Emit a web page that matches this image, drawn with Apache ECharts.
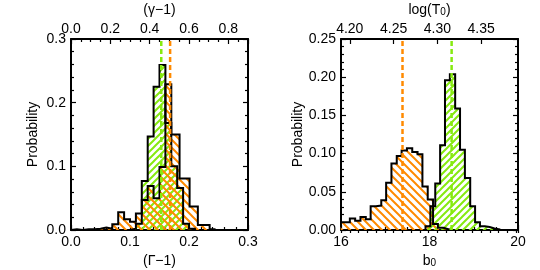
<!DOCTYPE html>
<html><head><meta charset="utf-8">
<script src="https://cdn.jsdelivr.net/npm/echarts@6/dist/echarts.min.js"></script>
<style>html,body{margin:0;padding:0;background:#fff}#c{width:540px;height:270px}</style>
</head><body><div id="c"></div>
<script>
// ---------- data ----------
// Left panel: (Gamma-1) histograms (bin edges, probabilities)
const leftGreenEdges = [0.10,0.11,0.12,0.13,0.14,0.15,0.16,0.17,0.18,0.19,0.20,0.21];
const leftGreenProb  = [0.002,0.010,0.077,0.147,0.225,0.259,0.168,0.100,0.066,0.010,0.002];
const leftOrangeEdges = [0.00,0.01,0.02,0.03,0.04,0.05,0.06,0.07,0.08,0.09,0.10,0.11,0.12,0.13,0.14,0.15,0.16,0.17,0.184,0.201,0.215,0.235,0.245];
const leftOrangeProb  = [0.001,0.000,0.001,0.001,0.002,0.004,0.002,0.009,0.028,0.017,0.013,0.026,0.047,0.069,0.050,0.099,0.229,0.150,0.081,0.037,0.008,0.001];
const leftGreenMedian = 0.153;
const leftOrangeMedian = 0.168;
// Right panel: b0 histograms
const rightOrangeEdges = [15.97,16.09,16.20,16.32,16.44,16.56,16.67,16.79,16.91,17.02,17.14,17.26,17.37,17.49,17.61,17.73,17.84,17.96,18.08,18.19,18.31,18.43];
const rightOrangeProb  = [0.010,0.010,0.015,0.012,0.017,0.014,0.031,0.032,0.039,0.062,0.087,0.097,0.104,0.107,0.102,0.099,0.057,0.040,0.008,0.003,0.001];
const rightGreenEdges = [17.91,18.02,18.13,18.24,18.35,18.46,18.58,18.69,18.80,18.92,19.03,19.14,19.25,19.36,19.47,19.58];
const rightGreenProb  = [0.005,0.031,0.061,0.111,0.196,0.204,0.159,0.105,0.068,0.031,0.010,0.005,0.004,0.002,0.001];
const rightOrangeMedian = 17.39;
const rightGreenMedian = 18.50;
// axis tick labels
const logT0Ticks = [4.20,4.25,4.30,4.35];

// ---------- helpers ----------
const ORANGE = '#FF8A00', GREEN = '#86EA10';
const FONT = 'Liberation Sans, Arial, sans-serif';
function hatch(color, size, dir, lw){
  const c = document.createElement('canvas'); c.width = size; c.height = size;
  const g = c.getContext('2d'); g.strokeStyle = color; g.lineWidth = lw;
  g.beginPath();
  if (dir > 0){ // '/'
    g.moveTo(-1, size+1); g.lineTo(size+1, -1);
    g.moveTo(-2, 2); g.lineTo(2, -2);
    g.moveTo(size-2, size+2); g.lineTo(size+2, size-2);
  } else { // '\'
    g.moveTo(-1, -1); g.lineTo(size+1, size+1);
    g.moveTo(-2, size-2); g.lineTo(2, size+2);
    g.moveTo(size-2, -2); g.lineTo(size+2, 2);
  }
  g.stroke();
  return {image: c, repeat: 'repeat'};
}
function steps(edges, prob){
  const pts = [[edges[0], 0]];
  for (let i = 0; i < prob.length; i++){
    pts.push([edges[i], prob[i]]);
    pts.push([edges[i+1], prob[i]]);
  }
  pts.push([edges[prob.length], 0]);
  return pts;
}
function histSeries(edges, prob, color, dir, size, xi, yi){
  return {type:'line', xAxisIndex:xi, yAxisIndex:yi, data: steps(edges, prob),
    symbol:'none', silent:true, clip:true,
    lineStyle:{color:'#000', width:2, join:'miter'},
    areaStyle:{color: hatch(color, size, dir, 2), opacity:1, origin:'start'}};
}
function medianSeries(x, top, color, xi, yi){
  return {type:'line', xAxisIndex:xi, yAxisIndex:yi, data:[[x,0],[x,top]],
    symbol:'none', silent:true, z:5,
    lineStyle:{color:color, width:2.5, type:[5,3]}};
}
const txt = {color:'#000', fontFamily:FONT, fontSize:14};
function xAx(grid, pos, min, max, interval, minorN, dec, name, gap, extra){
  return Object.assign({type:'value', gridIndex:grid, position:pos, min, max, interval,
    axisLine:{show:true, onZero:false, lineStyle:{color:'#000', width:2}},
    axisTick:{show:true, inside:true, length:5, lineStyle:{color:'#000', width:1.2}},
    minorTick:{show: minorN>0, splitNumber: minorN||5, length:3, lineStyle:{color:'#000', width:1.2}},
    splitLine:{show:false},
    axisLabel:{show: dec>=0, formatter:v=>v.toFixed(dec), margin: pos==='top'?3:5, ...txt},
    name, nameLocation:'middle', nameGap:gap, nameTextStyle:{...txt}}, extra||{});
}
function yAx(grid, pos, max, interval, dec, name){
  return {type:'value', gridIndex:grid, position:pos, min:0, max, interval,
    axisLine:{show:true, onZero:false, lineStyle:{color:'#000', width:2}},
    axisTick:{show:true, inside:true, length:5, lineStyle:{color:'#000', width:1.2}},
    minorTick:{show:true, splitNumber:5, length:3, lineStyle:{color:'#000', width:1.2}},
    splitLine:{show:false},
    axisLabel:{show: pos==='left', formatter:v=>v.toFixed(dec), margin:5, ...txt},
    name: pos==='left'?name:'', nameLocation:'middle', nameGap:31, nameRotate:90, nameTextStyle:{...txt}};
}
const rich = {t:{fontSize:14, fontFamily:FONT, color:'#000', lineHeight:14},
              s:{fontSize:10, fontFamily:FONT, color:'#000', lineHeight:10, verticalAlign:'bottom'}};

const option = {
  animation:false, backgroundColor:'#fff',
  grid:[{left:71, top:39, width:177, height:191, outerBoundsMode:'none'},
        {left:341, top:39, width:177, height:191, outerBoundsMode:'none'}],
  xAxis:[
    xAx(0,'bottom',0,0.3,0.1,5,1,'(\u0393\u22121)',21),
    xAx(0,'top',0,0.9,0.2,4,1,'(\u03B3\u22121)',19, {
        axisLabel:{show:true, formatter:v=>v.toFixed(1), margin:3, showMaxLabel:false, ...txt}}),
    xAx(1,'bottom',16,20,2,4,0,'{t|b}{s|0}',21, {nameTextStyle:{rich}}),
    xAx(1,'top',4.19,4.392,0.05,0,2,'log(T{s|0})',19, {
        axisTick:{show:true, inside:true, length:5, customValues:logT0Ticks, lineStyle:{color:'#000', width:1.2}},
        axisLabel:{show:true, customValues:logT0Ticks, formatter:v=>v.toFixed(2), margin:3, ...txt},
        nameTextStyle:{...txt, rich:{t:rich.t, s:rich.s}}}),
    {type:'value', gridIndex:1, position:'top', min:4.19, max:4.392, interval:0.01,
     axisLine:{show:false}, axisLabel:{show:false}, splitLine:{show:false},
     axisTick:{show:true, inside:true, length:3, lineStyle:{color:'#000', width:1.2}}}
  ],
  yAxis:[
    yAx(0,'left',0.3,0.1,1,'Probability'),
    yAx(0,'right',0.3,0.1,1,''),
    yAx(1,'left',0.25,0.05,2,'Probability'),
    yAx(1,'right',0.25,0.05,2,'')
  ],
  series:[
    histSeries(leftGreenEdges, leftGreenProb, GREEN, 1, 7, 0, 0),
    histSeries(leftOrangeEdges, leftOrangeProb, ORANGE, -1, 8, 0, 0),
    medianSeries(leftGreenMedian, 0.3, GREEN, 0, 0),
    medianSeries(leftOrangeMedian, 0.3, ORANGE, 0, 0),
    histSeries(rightOrangeEdges, rightOrangeProb, ORANGE, -1, 8, 2, 2),
    histSeries(rightGreenEdges, rightGreenProb, GREEN, 1, 7, 2, 2),
    medianSeries(rightOrangeMedian, 0.25, ORANGE, 2, 2),
    medianSeries(rightGreenMedian, 0.25, GREEN, 2, 2)
  ]
};
const chart = echarts.init(document.getElementById('c'), null, {renderer:'canvas'});
chart.setOption(option);
</script></body></html>
